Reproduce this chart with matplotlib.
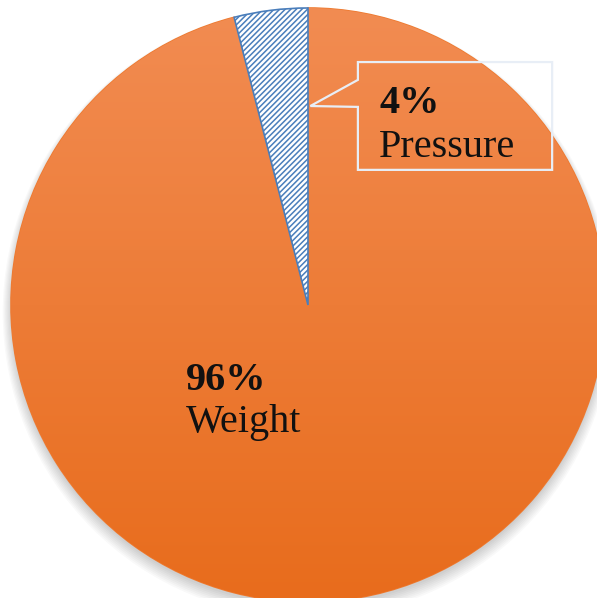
import numpy as np
import matplotlib.pyplot as plt
from matplotlib.patches import Polygon, Circle

labels = ['Pressure', 'Weight']
shares = [4, 96]

plt.rcParams['font.family'] = ['Liberation Serif', 'DejaVu Serif']
plt.rcParams['hatch.linewidth'] = 1.1
plt.rcParams['hatch.color'] = '#4a7ebb'

fig = plt.figure(figsize=(5.97, 5.98), dpi=100)
ax = fig.add_axes([0, 0, 1, 1])

# soft shadow under the pie
for i in range(8):
    ax.add_patch(Circle((0.0, -0.012 - 0.002 * i), 1.0 + 0.004 * i,
                        color='#000000', alpha=0.025, lw=0, zorder=0))

wedges, _ = ax.pie(shares, startangle=90, counterclock=True, radius=1.0,
                   colors=['white', '#ee7a30'],
                   wedgeprops=dict(linewidth=1.2))
pw, ww = wedges
pw.set_hatch('//////')
pw.set_edgecolor('#4a7ebb')
pw.set_zorder(3)
ww.set_edgecolor('#ee7a30')

# vertical orange gradient clipped to the big slice
top = np.array([242, 140, 82]) / 255
bot = np.array([232, 108, 28]) / 255
t = np.linspace(0, 1, 256)[:, None]
grad = top[None, :] * (1 - t) + bot[None, :] * t
img = ax.imshow(grad[:, None, :], extent=(-1, 1, -1, 1), aspect='auto',
                zorder=2, interpolation='bilinear')
img.set_clip_path(ww)

ax.set_xlim(-308 / 297, (597 - 308) / 297)
ax.set_ylim(-(598 - 305) / 297, 305 / 297)
ax.set_aspect('equal')
ax.axis('off')

# callout for the small slice: tip sits on the slice's right edge
ang = np.deg2rad(pw.theta1)
tip = (0.67 * np.cos(ang) + 0.008, 0.67 * np.sin(ang))
bx0, bx1, by0, by1 = 0.168, 0.822, 0.455, 0.818
callout = Polygon([(bx0, by1), (bx1, by1), (bx1, by0), (bx0, by0),
                   (bx0, 0.667), tip, (bx0, 0.758)],
                  closed=True, fill=False, edgecolor='#e8eef6', lw=1.6, zorder=4)
ax.add_patch(callout)
ax.text(0.24, 0.68, f'{shares[0]}%', fontsize=29, fontweight='bold',
        ha='left', va='center', color='#111111', zorder=5)
ax.text(0.24, 0.53, labels[0], fontsize=29, ha='left', va='center',
        color='#111111', zorder=5)

ax.text(-0.41, -0.253, f'{shares[1]}%', fontsize=29, fontweight='bold',
        ha='left', va='center', color='#111111', zorder=5)
ax.text(-0.41, -0.395, labels[1], fontsize=29, ha='left', va='center',
        color='#111111', zorder=5)

fig.savefig('out.png', dpi=100, facecolor='white')
